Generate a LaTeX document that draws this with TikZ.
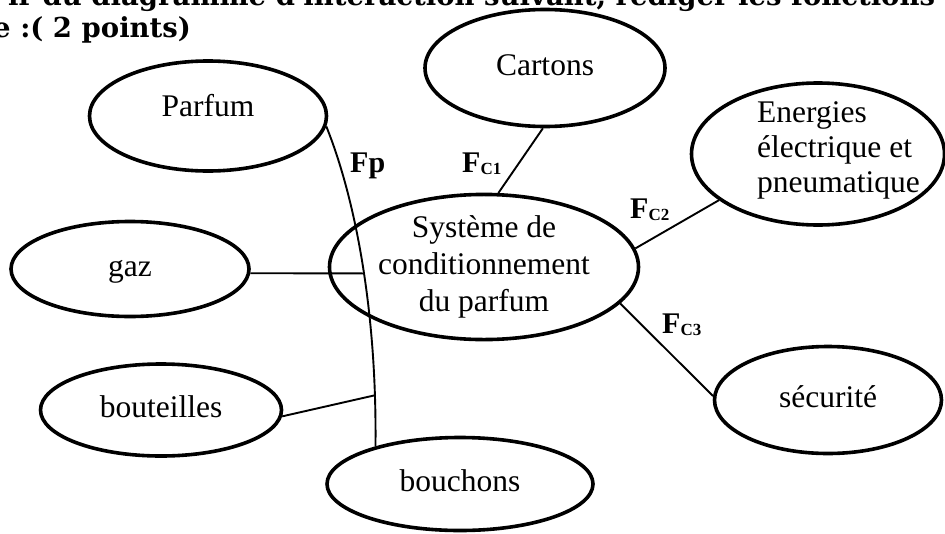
\documentclass[tikz,border=0pt]{standalone}
\usepackage{fontspec}
\setmainfont{Liberation Serif}
\newfontfamily\titlefont{DejaVu Serif}
\usepackage{tikz}
\usetikzlibrary{shapes}

\newcommand\fcind[1]{F\raisebox{-2pt}{\fontsize{17}{17}\selectfont C#1}}

\begin{document}
\begin{tikzpicture}[x=1pt, y=-1pt,
    elem/.style={draw, ellipse, line width=3.6pt, inner sep=0pt, font=\fontsize{31.5}{37}\selectfont},
    mot/.style={elem, text height=22pt, text depth=7pt},
    liaison/.style={line width=1.9pt},
    fct/.style={anchor=base west, inner sep=0pt, font=\fontsize{30}{30}\selectfont\bfseries},
    titre/.style={anchor=base west, inner sep=0pt, font=\titlefont\bfseries\fontsize{27.5}{30}\selectfont}]
    \path[use as bounding box] (0,0) rectangle (945,533);
    \clip (0,0) rectangle (945,533);
    \node[titre] (titre1) at (8,5) {ir du diagramme d'interaction suivant, rédiger les fonctions};
    \node[titre] (titre2) at (-7,37) {e :( 2 points)};

    \node[mot, minimum width=237pt, minimum height=110pt, text depth=22pt] (parfum) at (208,116) {Parfum};
    \node[mot, minimum width=238pt, minimum height=95pt] (gaz) at (130,269) {gaz};
    \node[mot, minimum width=241pt, minimum height=92pt] (bout) at (161,410) {bouteilles};
    \node[mot, minimum width=266pt, minimum height=93pt] (bouch) at (460,484) {bouchons};
    \node[mot, minimum width=240pt, minimum height=117pt] (cartons) at (545,68) {Cartons};
    \node[elem, align=center, minimum width=309pt, minimum height=139pt] (sys) at (484,267) {Système de\\conditionnement\\du parfum};
    \node[elem, minimum width=253pt, minimum height=142pt] (energ) at (818,154) {};
    \node[anchor=west, align=left, inner sep=0pt, font=\fontsize{31.5}{35}\selectfont] (energtxt) at (757,150) {Energies\\électrique et\\pneumatique};
    \node[mot, minimum width=227pt, minimum height=107pt] (secu) at (828,400) {sécurité};

    \draw[liaison] (parfum.-5) .. controls (352,190) and (377,300) .. (bouch.156)
        coordinate[pos=0.555] (pg) coordinate[pos=0.88] (pb);
    \draw[liaison] (gaz.-2) -- (pg);
    \draw[liaison] (bout.-3) -- (pb);
    \draw[liaison] (cartons.-92) -- (sys.79);
    \draw[liaison] (energ.205) -- (sys.7);
    \draw[liaison] (sys.-15) -- (secu.178);

    \node[fct] (lfp) at (350,172) {Fp};
    \node[fct] (lfc1) at (462,172) {\fcind{1}};
    \node[fct] (lfc2) at (630,218) {\fcind{2}};
    \node[fct] (lfc3) at (662,333) {\fcind{3}};
\end{tikzpicture}
\end{document}
